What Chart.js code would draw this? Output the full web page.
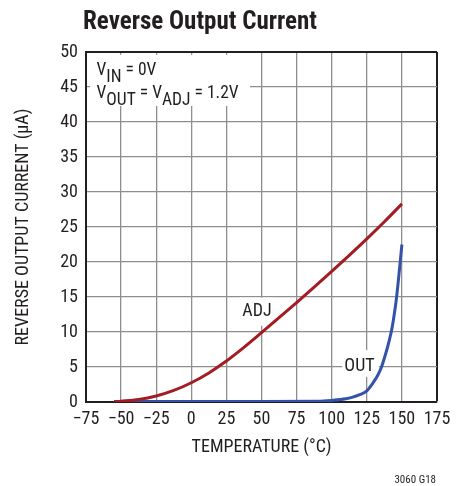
<!DOCTYPE html>
<html><head><meta charset="utf-8">
<script src="https://cdn.jsdelivr.net/npm/chart.js@4/dist/chart.umd.min.js"></script>
<style>html,body{margin:0;padding:0;background:#fff}#wrap{width:461px;height:486px;position:relative}</style>
</head><body><div id="wrap"><canvas id="c"></canvas></div>
<script>
// ---- data ----
const temperatureAdj = [-55, -50, -37.5, -25, -12.5, 0, 12.5, 25, 37.5, 50, 62.5, 75, 87.5, 100, 112.5, 125, 137.5, 150];
const currentAdj     = [0.05, 0.12, 0.35, 0.85, 1.65, 2.75, 4.15, 5.85, 7.8, 9.9, 12.05, 14.2, 16.4, 18.65, 20.95, 23.3, 25.75, 28.3];
const temperatureOut = [-55, 0, 50, 90, 100, 110, 115, 120, 125, 130, 133, 135.5, 138, 140, 142.7, 144, 146, 148, 150];
const currentOut     = [0.08, 0.08, 0.08, 0.1, 0.22, 0.45, 0.7, 1.05, 1.6, 2.9, 3.9, 5.0, 6.6, 8.0, 10.3, 11.8, 14.6, 18.4, 22.5];
const xTickValues = [-75, -50, -25, 0, 25, 50, 75, 100, 125, 150, 175];
const yTickValues = [0, 5, 10, 15, 20, 25, 30, 35, 40, 45, 50];
const seriesNames = ['ADJ', 'OUT'];
const chartTitle = 'Reverse Output Current';
const xTitle = 'TEMPERATURE (°C)';
const yTitle = 'REVERSE OUTPUT CURRENT (µA)';
const footnote = '3060 G18';

const FONT = "'Roboto Condensed','DejaVu Sans Condensed',sans-serif";
const INK = '#231f20';
const RED = '#a31c22';
const BLUE = '#3452aa';

const toPts = (xs, ys) => xs.map((x, i) => ({x, y: ys[i]}));

const overlay = {
  id: 'overlay',
  beforeDatasetsDraw(chart) {
    const {ctx, scales: {x, y}} = chart;
    ctx.save();
    ctx.fillStyle = '#fff';
    const box = (x0, x1, y0, y1) => {
      const px0 = x.getPixelForValue(x0), px1 = x.getPixelForValue(x1);
      const py0 = y.getPixelForValue(y1), py1 = y.getPixelForValue(y0);
      ctx.fillRect(px0, py0, px1 - px0, py1 - py0);
    };
    box(-72.2, 41.8, 42.3, 49.6);   // condition text
    box(34.7, 59.6, 10.9, 14.9);     // ADJ label
    box(107.5, 133.5, 3.6, 7.4);     // OUT label
    ctx.restore();
  },
  afterDraw(chart) {
    const {ctx, scales: {x, y}} = chart;
    ctx.save();
    ctx.fillStyle = INK;
    ctx.textBaseline = 'alphabetic';
    // title
    ctx.font = `bold 25px ${FONT}`;
    ctx.textAlign = 'left';
    ctx.fillText(chartTitle, 83, 29);
    // conditions
    const sub = (parts, px, py) => {
      let cx = px;
      for (const [t, s] of parts) {
        ctx.font = `17.5px ${FONT}`;
        ctx.fillText(t, cx, py + (s ? 6.5 : 0));
        cx += ctx.measureText(t).width;
      }
    };
    const lx = x.getPixelForValue(-67.5);
    sub([['V', 0], ['IN', 1], [' = 0V', 0]], lx, y.getPixelForValue(46.7));
    sub([['V', 0], ['OUT', 1], [' = V', 0], ['ADJ', 1], [' = 1.2V', 0]], lx, y.getPixelForValue(43.4));
    // series labels
    ctx.font = `18px ${FONT}`;
    ctx.textAlign = 'center';
    ctx.textBaseline = 'middle';
    ctx.fillText(seriesNames[0], x.getPixelForValue(46.8), y.getPixelForValue(12.9));
    ctx.fillText(seriesNames[1], x.getPixelForValue(119.8), y.getPixelForValue(5.1));
    // footnote
    ctx.font = `11px ${FONT}`;
    ctx.textAlign = 'right';
    ctx.textBaseline = 'alphabetic';
    ctx.fillText(footnote, 436, 483);
    ctx.restore();
  }
};

const edge = (v, ends, a, b) => ends.includes(v) ? a : b;

new Chart(document.getElementById('c'), {
  type: 'line',
  data: {
    datasets: [
      {label: seriesNames[0], data: toPts(temperatureAdj, currentAdj), borderColor: RED, borderWidth: 3,
       pointRadius: 0, cubicInterpolationMode: 'monotone', fill: false, order: 0},
      {label: seriesNames[1], data: toPts(temperatureOut, currentOut), borderColor: BLUE, borderWidth: 3,
       pointRadius: 0, cubicInterpolationMode: 'monotone', fill: false, order: 1}
    ]
  },
  options: {
    responsive: true, maintainAspectRatio: false, animation: false, devicePixelRatio: 1,
    layout: {padding: {left: 0, top: 52, right: 24, bottom: 0}},
    plugins: {legend: {display: false}, tooltip: {enabled: false}, title: {display: false}},
    scales: {
      x: {
        type: 'linear', min: -75, max: 175,
        afterBuildTicks: s => { s.ticks = xTickValues.map(v => ({value: v})); },
        afterFit: s => { s.height = 84; },
        ticks: {color: INK, font: {family: FONT, size: 18}, padding: 7,
                callback: v => String(v).replace('-', '\u2212'), maxRotation: 0, autoSkip: false},
        grid: {drawTicks: false,
               color: c => edge(c.tick && c.tick.value, [175], INK, '#8e8e8e'),
               lineWidth: c => edge(c.tick && c.tick.value, [175], 2, 1.3)},
        border: {display: true, color: INK, width: 2},
        title: {display: true, text: xTitle, color: INK, font: {family: FONT, size: 18}, padding: {top: 0, bottom: 28}}
      },
      y: {
        type: 'linear', min: 0, max: 50,
        afterBuildTicks: s => { s.ticks = yTickValues.map(v => ({value: v})); },
        afterFit: s => { s.width = 86; },
        ticks: {color: INK, font: {family: FONT, size: 18}, padding: 8},
        grid: {drawTicks: false,
               color: c => edge(c.tick && c.tick.value, [50], INK, '#8e8e8e'),
               lineWidth: c => edge(c.tick && c.tick.value, [50], 2, 1.3)},
        border: {display: true, color: INK, width: 2},
        title: {display: true, text: yTitle, color: INK, font: {family: FONT, size: 18}, padding: {top: 13, bottom: 0}}
      }
    }
  },
  plugins: [overlay]
});
</script></body></html>
